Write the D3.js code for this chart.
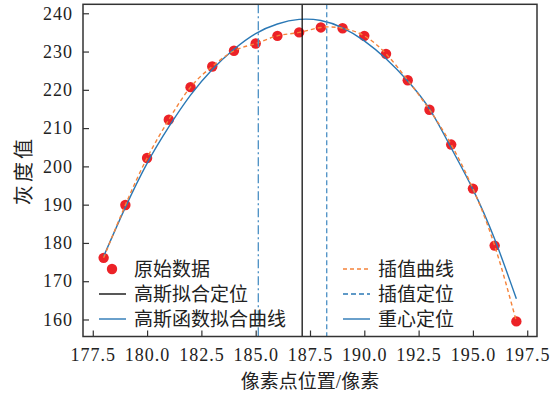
<!DOCTYPE html>
<html lang="zh">
<head>
    <meta charset="UTF-8">
    <title>灰度值</title>
    <script src="https://d3js.org/d3.v7.min.js"></script>
    <style>
        body {margin: 0; background: white}
        svg text {
            font-family: "Liberation Serif", "Times New Roman", "Noto Sans CJK SC", serif;
            fill: #222;
        }
        .tick line {stroke: #333}
        .domain {display: none}
        .cjk {font-size: 19px}
    </style>
</head>
<body>
<script>
    // raw samples
    const pixelX   = [178, 179, 180, 181, 182, 183, 184, 185, 186, 187,
                      188, 189, 190, 191, 192, 193, 194, 195, 196, 197];
    const grayVals = [176.1, 189.9, 202.2, 212.2, 220.7, 226.1, 230.2, 232.1, 234.1, 235.0,
                      236.3, 236.1, 234.1, 229.4, 222.5, 214.8, 205.7, 194.2, 179.3, 159.5];

    const fitVals  = [176.5, 189.3, 200.8, 210.3, 218.6, 225.3, 230.6, 234.7, 237.2, 238.4,
                      238.1, 236.2, 232.8, 228.1, 222.3, 215.0, 204.8, 194.0, 181.0, 165.4];

    // located centres
    const gaussCenter  = 187.14;
    const interpCenter = 188.27;
    const centroid     = 185.12;

    const xTicks = [177.5, 180.0, 182.5, 185.0, 187.5, 190.0, 192.5, 195.0, 197.5];
    const yTicks = [160, 170, 180, 190, 200, 210, 220, 230, 240];

    const width = 558, height = 396;
    const mLeft = 83, mRight = 537, mTop = 4.3, mBottom = 336.5;

    const blue = "#2a78b5", orange = "#f5833a", red = "#ec2227", lineBlue = "#4a8fc4";
    const serif = '"Liberation Serif", "Times New Roman", serif';

    // matplotlib-like 5% margins
    const pad = (ext) => { const d = (ext[1] - ext[0]) * 0.05; return [ext[0] - d, ext[1] + d]; };
    const x = d3.scaleLinear().domain(pad(d3.extent(pixelX))).range([mLeft, mRight]);
    const y = d3.scaleLinear().domain(pad([d3.min(grayVals), d3.max(fitVals)])).range([mBottom, mTop]);

    const svg = d3.select("body").append("svg")
            .attr("width", width).attr("height", height);

    // axes, ticks pointing inward
    svg.append("g").attr("transform", `translate(0,${mBottom})`)
        .call(d3.axisBottom(x).tickValues(xTicks).tickFormat(d3.format(".1f"))
            .tickSizeInner(-6).tickSizeOuter(0).tickPadding(12));
    svg.append("g").attr("transform", `translate(${mLeft},0)`)
        .call(d3.axisLeft(y).tickValues(yTicks).tickSizeInner(-6).tickSizeOuter(0).tickPadding(10));
    svg.selectAll(".tick line").attr("stroke-width", 1.2);
    svg.selectAll(".tick text")
        .style("font-family", serif)
        .style("font-size", "18px")
        .style("letter-spacing", "1px")
        .attr("fill", "#222");

    // points
    svg.append("g").selectAll("circle")
        .data(pixelX).join("circle")
        .attr("cx", d => x(d))
        .attr("cy", (d, i) => y(grayVals[i]))
        .attr("r", 5.2)
        .attr("fill", red);

    // gaussian fit curve
    svg.append("path")
        .datum(pixelX)
        .attr("d", d3.line().x(d => x(d)).y((d, i) => y(fitVals[i])).curve(d3.curveNatural))
        .attr("fill", "none").attr("stroke", blue).attr("stroke-width", 1.4);

    // interpolation curve
    svg.append("path")
        .datum(pixelX)
        .attr("d", d3.line().x(d => x(d)).y((d, i) => y(grayVals[i])).curve(d3.curveNatural))
        .attr("fill", "none").attr("stroke", orange).attr("stroke-width", 1.4)
        .attr("stroke-dasharray", "4,3");

    // vertical locators
    const vline = (v, color, dash) => svg.append("line")
        .attr("x1", x(v)).attr("x2", x(v)).attr("y1", mTop).attr("y2", mBottom)
        .attr("stroke", color).attr("stroke-width", 1.3)
        .attr("stroke-dasharray", dash);
    vline(gaussCenter, "#111", null);
    vline(interpCenter, lineBlue, "5,3");
    vline(centroid, lineBlue, "9,3,2,3");

    // frame
    svg.append("rect")
        .attr("x", mLeft).attr("y", mTop)
        .attr("width", mRight - mLeft).attr("height", mBottom - mTop)
        .attr("fill", "none").attr("stroke", "#333").attr("stroke-width", 1.5);

    // legend, two columns
    const legendItems = [
        {label: "原始数据",       type: "dot"},
        {label: "高斯拟合定位",   color: "#111"},
        {label: "高斯函数拟合曲线", color: blue},
        {label: "插值曲线",       color: orange, dash: "4,3"},
        {label: "插值定位",       color: blue, dash: "5,3"},
        {label: "重心定位",       color: blue}
    ];
    const colX = [99, 343], rowY = [269, 294, 319];
    legendItems.forEach((d, i) => {
        const g = svg.append("g")
            .attr("transform", `translate(${colX[Math.floor(i / 3)]},${rowY[i % 3]})`);
        if (d.type === "dot") {
            g.append("circle").attr("cx", 13).attr("r", 5.2).attr("fill", red);
        } else {
            g.append("line").attr("x1", 0).attr("x2", 27)
                .attr("stroke", d.color).attr("stroke-width", 1.4)
                .attr("stroke-dasharray", d.dash || null);
        }
        g.append("text").attr("class", "cjk").attr("x", 35).attr("dy", "0.35em").text(d.label);
    });

    // axis titles
    svg.append("text").attr("class", "cjk")
        .attr("x", (mLeft + mRight) / 2).attr("y", 388)
        .attr("text-anchor", "middle").text("像素点位置/像素");
    svg.append("text").attr("class", "cjk")
        .attr("transform", `translate(31,${(mTop + mBottom) / 2}) rotate(-90)`)
        .attr("text-anchor", "middle").style("font-size", "20px").style("letter-spacing", "3px")
        .text("灰度值");
</script>
</body>
</html>
